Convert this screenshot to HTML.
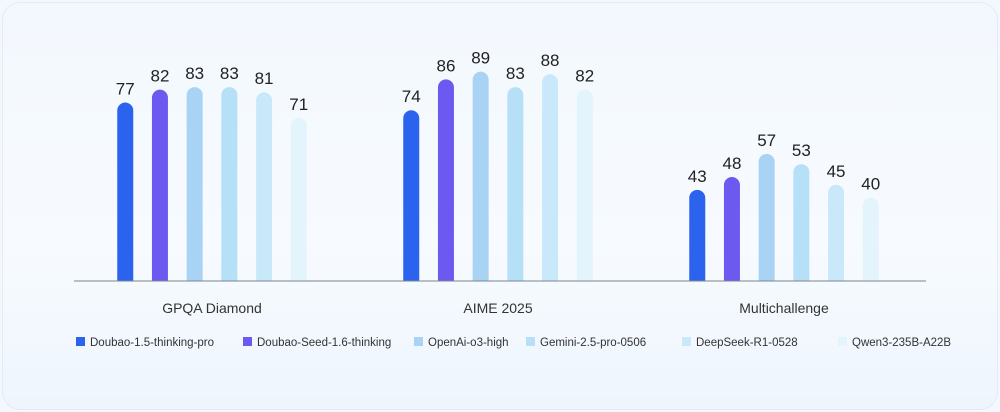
<!DOCTYPE html>
<html><head><meta charset="utf-8"><style>
body{margin:0;width:1000px;height:412px;background:#f4f8fd;font-family:"Liberation Sans",sans-serif;overflow:hidden}
#card{position:absolute;left:2px;top:2px;width:994px;height:406px;border-radius:18px;background:linear-gradient(180deg,#f3f8fe 0%,#f7fbff 60%,#eef5fd 100%);border:1px solid #e2ecf8}
svg{position:absolute;left:0;top:0}
</style></head><body>
<div id="card"></div>
<svg id="chart" width="1000" height="412"></svg>
<script>
const categories=["GPQA Diamond","AIME 2025","Multichallenge"];
const seriesNames=["Doubao-1.5-thinking-pro","Doubao-Seed-1.6-thinking","OpenAi-o3-high","Gemini-2.5-pro-0506","DeepSeek-R1-0528","Qwen3-235B-A22B"];
const s0=[77,74,43];
const s1=[82,86,48];
const s2=[83,89,57];
const s3=[83,83,53];
const s4=[81,88,45];
const s5=[71,82,40];
const series=[s0,s1,s2,s3,s4,s5];
const colors=["#2b63ee","#6c5af0","#a8d3f5","#b6dff8","#c9e9fa","#e4f4fc"];
const NS="http://www.w3.org/2000/svg";
const svg=document.getElementById("chart");
const base=281;
function y(v){return base-2.57*(v-7.55);}
function gx(i){return 212+i*286;}
function bx(i,j){return gx(i)+(j-2.5)*34.7;}
function mk(t,a){const e=document.createElementNS(NS,t);for(const k in a)e.setAttribute(k,a[k]);svg.appendChild(e);return e;}
series.forEach((s,j)=>{s.forEach((v,i)=>{
  const top=y(v),x=bx(i,j);
  const r=mk("path",{d:`M${x-8},${base} L${x-8},${top+8} A8,8 0 0 1 ${x+8},${top+8} L${x+8},${base} Z`,fill:colors[j]});
  
  
  const t=mk("text",{x:x,y:top-8,"text-anchor":"middle","font-size":"17",fill:"#222"});
  t.textContent=v;
  
  
});});
const ax=mk("line",{x1:74,x2:926,y1:base,y2:base,stroke:"#7c8490","stroke-width":"1"});


categories.forEach((c,i)=>{
  const t=mk("text",{x:gx(i),y:313,"text-anchor":"middle","font-size":"14",fill:"#333"});
  t.textContent=c;
  
  
});
const lx=[76,243,414,526,682,838];
seriesNames.forEach((n,j)=>{
  const r=mk("rect",{x:lx[j],y:337,width:9,height:9,fill:colors[j]});
  
  
  const t=mk("text",{x:lx[j]+14,y:346,"font-size":"11.5",fill:"#333"});
  t.textContent=n;
  
  
});
</script>
</body></html>
